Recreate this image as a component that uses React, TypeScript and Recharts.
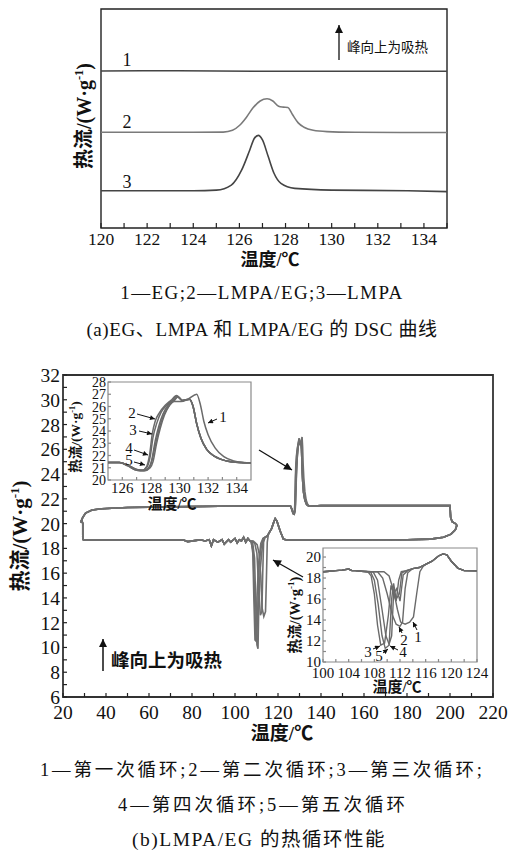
import React from 'react';
import { LineChart, Line, XAxis, YAxis, ReferenceArea } from 'recharts';

const SERIF = '"Liberation Serif","Noto Sans CJK SC",serif';
type P = [number, number];

// ---------------- (a) DSC curves ----------------
const aXTicks = [120, 121, 122, 123, 124, 125, 126, 127, 128, 129, 130, 131, 132, 133, 134, 135];
const aEG: P[] = [[120, 71.7], [123, 71.8], [127, 71.6], [131, 71.6], [135, 71.6]];
const aComposite: P[] = [
  [120, 43.7], [124, 43.7], [125.3, 43.8], [125.7, 44.6], [126.0, 46.8], [126.3, 50.5], [126.6, 55.0],
  [126.9, 58.0], [127.2, 59.0], [127.45, 58.0], [127.7, 55.6], [127.9, 55.2], [128.1, 55.0], [128.3, 51.8],
  [128.55, 48.0], [128.8, 46.0], [129.2, 44.6], [129.8, 44.0], [131, 43.7], [133, 43.6], [135, 43.6],
];
const aLMPA: P[] = [
  [120, 17.0], [124, 17.0], [125.0, 17.3], [125.65, 19.6], [126.1, 26.5], [126.45, 35.6], [126.65, 41.0],
  [126.82, 42.3], [127.0, 40.2], [127.25, 32.6], [127.5, 25.0], [127.8, 20.4], [128.4, 18.1], [130.0, 17.3],
  [133.3, 17.0], [135, 16.6],
];

// ---------------- (b) thermal cycling ----------------
const bXTicks = [20, 30, 40, 50, 60, 70, 80, 90, 100, 110, 120, 130, 140, 150, 160, 170, 180, 190, 200, 210, 220];
const bYTicks = [6, 7, 8, 9, 10, 11, 12, 13, 14, 15, 16, 17, 18, 19, 20, 21, 22, 23, 24, 25, 26, 27, 28, 29, 30, 31, 32];

const loopStart: P[] = [
  [29.2, 18.68], [29.2, 20.0], [28.7, 20.3], [28.2, 20.1], [29.2, 20.5], [30.5, 20.85], [33.5, 21.1], [38, 21.2],
  [50, 21.3], [70, 21.35], [100, 21.42], [124, 21.42],
];
// heating peaks, cycles 1..5 (also used by inset 1)
const heat1: P[] = [
  [125, 21.42], [125.8, 21.42], [126.5, 21.15], [127.2, 20.8], [127.6, 20.8], [128.0, 21.3], [128.3, 22.8],
  [128.6, 24.3], [128.9, 25.3], [129.3, 26.1], [129.6, 26.4], [130.1, 26.4], [130.6, 26.6], [131.2, 27.0],
  [131.45, 26.2], [131.7, 24.8], [132.0, 23.7], [132.5, 22.6], [133.1, 21.9], [133.8, 21.55], [134.5, 21.42], [135, 21.4],
];
const heat2: P[] = [
  [125, 21.42], [125.8, 21.42], [126.4, 21.2], [127.0, 20.85], [127.4, 20.8], [127.7, 21.1], [127.9, 22.0],
  [128.1, 23.8], [128.3, 24.8], [128.6, 25.5], [129.0, 26.1], [129.4, 26.5], [129.8, 26.9], [130.2, 26.5],
  [130.7, 26.6], [130.95, 26.0], [131.2, 24.6], [131.5, 23.4], [131.9, 22.5], [132.5, 21.9], [133.3, 21.55], [134.2, 21.42], [135, 21.4],
];
const heat3: P[] = [
  [125, 21.42], [125.8, 21.42], [126.4, 21.2], [127.0, 20.85], [127.4, 20.8], [127.75, 21.1], [127.95, 21.9],
  [128.15, 23.5], [128.4, 24.6], [128.7, 25.5], [129.1, 26.1], [129.5, 26.5], [129.8, 26.85], [130.2, 26.5],
  [130.7, 26.6], [130.95, 26.0], [131.2, 24.6], [131.5, 23.4], [131.9, 22.5], [132.5, 21.9], [133.3, 21.55], [134.2, 21.42], [135, 21.4],
];
const heat4: P[] = [
  [125, 21.42], [125.8, 21.42], [126.4, 21.15], [127.0, 20.8], [127.5, 20.75], [127.85, 21.0], [128.05, 21.6],
  [128.3, 23.2], [128.55, 24.4], [128.85, 25.4], [129.2, 26.1], [129.6, 26.5], [129.85, 26.8], [130.2, 26.5],
  [130.7, 26.6], [130.95, 26.0], [131.2, 24.6], [131.5, 23.4], [131.9, 22.5], [132.5, 21.9], [133.3, 21.55], [134.2, 21.42], [135, 21.4],
];
const heat5: P[] = [
  [125, 21.42], [125.8, 21.42], [126.4, 21.15], [127.0, 20.8], [127.55, 20.75], [127.95, 21.0], [128.15, 21.5],
  [128.4, 23.0], [128.65, 24.2], [128.95, 25.3], [129.3, 26.1], [129.65, 26.5], [129.9, 26.8], [130.2, 26.5],
  [130.7, 26.6], [130.95, 26.0], [131.2, 24.6], [131.5, 23.4], [131.9, 22.5], [132.5, 21.9], [133.3, 21.55], [134.2, 21.42], [135, 21.4],
];
const loopRight: P[] = [
  [140, 21.45], [170, 21.45], [200, 21.45], [200.3, 20.5], [201, 20.15], [202.5, 20.0], [203.2, 19.85],
  [202.5, 19.5], [200.5, 19.15], [197, 18.9], [191, 18.75], [180, 18.7], [150, 18.68], [124, 18.68],
];
const coolPeak: P[] = [[122.5, 18.75], [121, 19.4], [119.5, 20.2], [118.7, 20.4], [118, 20.1], [117, 19.6], [116, 19.3]];
// crystallisation dips on the main axes, cycles 1..5
const mainDip1: P[] = [[115.5, 19.1], [115.0, 18.5], [114.6, 15.5], [114.2, 12.9], [113.4, 12.5], [112.6, 13.2], [112.0, 15.8], [111.2, 17.6], [110.3, 18.3], [108.5, 18.6]];
const mainDip2: P[] = [[115.2, 19.0], [114.0, 18.9], [113.3, 18.5], [112.9, 16.0], [112.5, 12.9], [111.8, 12.6], [111.0, 14.8], [110.2, 17.6], [109.2, 18.4], [108.0, 18.6]];
const mainDip3: P[] = [[115, 19.0], [113, 18.8], [112.0, 18.4], [111.0, 16.8], [110.2, 14.0], [109.8, 10.5], [109.3, 10.6], [108.8, 13.8], [108.3, 17.6], [107.6, 18.5]];
const mainDip4: P[] = [[115, 19.0], [113.2, 18.8], [112.4, 17.6], [111.7, 16.2], [111.1, 13.8], [110.7, 9.9], [110.2, 10.2], [109.7, 13.2], [109.1, 17.2], [108.2, 18.5]];
const mainDip5: P[] = [[115, 19.0], [113, 18.8], [112.1, 18.0], [111.2, 16.8], [110.6, 13.2], [110.1, 10.6], [109.6, 11.0], [109.0, 14.8], [108.4, 17.8], [107.5, 18.5]];
const coolNoise: P[] = [
  [107, 18.6], [106, 18.8], [105, 18.5], [104, 18.9], [103, 18.6], [102, 18.7], [101, 18.45], [100, 18.8],
  [98, 18.5], [97, 18.7], [95, 18.35], [94, 18.7], [92, 18.5], [90, 18.7], [89, 18.2], [88, 18.7], [86, 18.6],
  [84, 18.7], [82, 18.65], [78, 18.55], [76, 18.68], [50, 18.68], [31, 18.68], [29.2, 18.68],
];

// inset 1
const i1XTicks = [126, 127, 128, 129, 130, 131, 132, 133, 134];
const i1YTicks = [20, 21, 22, 23, 24, 25, 26, 27, 28];
// inset 2
const i2XTicks = [100, 102, 104, 106, 108, 110, 112, 114, 116, 118, 120, 122, 124];
const i2YTicks = [10, 11, 12, 13, 14, 15, 16, 17, 18, 19, 20];
const i2Base: P[] = [[100, 18.6], [101, 18.65], [102, 18.7], [103, 18.75], [104, 18.85], [104.5, 18.7], [105, 18.7], [106, 18.65]];
const i2Tail: P[] = [[116, 19.3], [117, 19.6], [118, 20.1], [118.7, 20.3], [119.3, 20.2], [120, 19.6], [121, 18.95], [122, 18.7], [124, 18.68]];
const cool1: P[] = [[107.5, 18.6], [109.5, 18.6], [110.3, 18.2], [111.0, 16.8], [111.6, 15.0], [112.1, 13.8], [112.8, 13.6], [113.5, 13.8], [114.1, 14.3], [114.6, 16.5], [115.1, 18.6], [115.6, 19.1]];
const cool2: P[] = [[107.5, 18.6], [108.5, 18.6], [109.3, 18.0], [110.0, 16.5], [110.8, 14.5], [111.4, 13.6], [112.0, 13.4], [112.4, 13.8], [112.8, 17.0], [113.2, 18.5], [114, 18.9], [115, 19.0]];
const cool3: P[] = [[107.0, 18.6], [107.5, 18.2], [108.0, 16.5], [108.5, 13.5], [109.0, 11.6], [109.6, 11.8], [110.2, 14.5], [110.6, 17.3], [111.0, 16.5], [111.4, 15.8], [111.8, 17.8], [112.2, 18.6], [113, 18.7], [114, 18.9], [115, 19.0]];
const cool4: P[] = [[107.0, 18.6], [107.8, 18.6], [108.5, 17.8], [109.2, 15.0], [109.8, 12.5], [110.3, 11.7], [110.7, 12.5], [111.0, 16.5], [111.5, 17.0], [112.0, 15.8], [112.5, 18.3], [113.2, 18.7], [114, 18.9], [115, 19.0]];
const cool5: P[] = [[107.0, 18.6], [107.4, 18.6], [108.0, 17.8], [108.6, 15.5], [109.2, 12.5], [109.7, 11.3], [110.3, 11.6], [110.7, 16.0], [111.0, 17.5], [111.4, 16.0], [111.9, 16.5], [112.3, 18.5], [113, 18.7], [114, 18.9], [115, 19.0]];

// ---------------- helpers ----------------
const pts = (a: P[]) => a.map(([x, y]) => ({ x, y }));
const mainCycle = (heat: P[], dip: P[]) => pts([...loopStart, ...heat, ...loopRight, ...coolPeak, ...dip, ...coolNoise]);
const inset2Curve = (c: P[]) => pts([...i2Base, ...c, ...i2Tail]);

const makeXTick = (show: (v: number) => boolean, len: number, fs: number, off: number, stroke: string) => (props: any) => {
  const { x, y, payload } = props;
  const v = payload.value;
  return (
    <g>
      <line x1={x} x2={x} y1={y} y2={y - len} stroke={stroke} strokeWidth={1.2} />
      {show(v) && (
        <text x={x} y={y + off} textAnchor="middle" fontSize={fs} fontFamily={SERIF} fill="#111">{v}</text>
      )}
    </g>
  );
};
const makeYTick = (show: (v: number) => boolean, len: number, fs: number, gap: number, dy: number, stroke: string) => (props: any) => {
  const { x, y, payload } = props;
  const v = payload.value;
  return (
    <g>
      <line x1={x} x2={x + len} y1={y} y2={y} stroke={stroke} strokeWidth={1.2} />
      {show(v) && (
        <text x={x - gap} y={y + dy} textAnchor="end" fontSize={fs} fontFamily={SERIF} fill="#111">{v}</text>
      )}
    </g>
  );
};

const ChartA = () => (
  <LineChart width={513} height={250} margin={{ top: 9, right: 66, left: 101, bottom: 0 }}>
    <XAxis type="number" dataKey="x" domain={[120, 135]} ticks={aXTicks} interval={0} height={22}
      axisLine={false} tickLine={false} tickSize={0} tickMargin={0}
      tick={makeXTick((v) => v % 2 === 0 && v < 135, 5, 17.5, 17, '#222')} allowDataOverflow />
    <YAxis type="number" hide domain={[0, 100]} allowDataOverflow />
    <ReferenceArea x1={120} x2={135} y1={0} y2={100} fill="none" fillOpacity={0} stroke="#222" strokeWidth={1.4} />
    <Line data={pts(aEG)} dataKey="y" type="monotone" stroke="#444" strokeWidth={1.5} dot={false} isAnimationActive={false} />
    <Line data={pts(aComposite)} dataKey="y" type="monotone" stroke="#7a7a7a" strokeWidth={1.6} dot={false} isAnimationActive={false} />
    <Line data={pts(aLMPA)} dataKey="y" type="monotone" stroke="#444" strokeWidth={1.6} dot={false} isAnimationActive={false} />
  </LineChart>
);

const MAIN_COL = '#6f6f6f';
const ChartB = () => (
  <LineChart width={513} height={390} margin={{ top: 35, right: 20, left: 13, bottom: 10 }}>
    <XAxis type="number" dataKey="x" domain={[20, 220]} ticks={bXTicks} interval={0} height={23}
      axisLine={false} tickLine={false} tickSize={0} tickMargin={0}
      tick={makeXTick((v) => v % 20 === 0, 4, 19.5, 22, '#222')} allowDataOverflow />
    <YAxis type="number" domain={[6, 32]} ticks={bYTicks} interval={0} width={50}
      axisLine={false} tickLine={false} tickSize={0} tickMargin={0}
      tick={makeYTick((v) => v % 2 === 0, 4, 19.5, 3, 7, '#222')} allowDataOverflow />
    <ReferenceArea x1={20} x2={220} y1={6} y2={32} fill="none" fillOpacity={0} stroke="#333" strokeWidth={1.8} />
    <Line data={mainCycle(heat5, mainDip5)} dataKey="y" stroke={MAIN_COL} strokeWidth={1.6} dot={false} isAnimationActive={false} />
    <Line data={mainCycle(heat4, mainDip4)} dataKey="y" stroke={MAIN_COL} strokeWidth={1.6} dot={false} isAnimationActive={false} />
    <Line data={mainCycle(heat3, mainDip3)} dataKey="y" stroke={MAIN_COL} strokeWidth={1.6} dot={false} isAnimationActive={false} />
    <Line data={mainCycle(heat2, mainDip2)} dataKey="y" stroke={MAIN_COL} strokeWidth={1.6} dot={false} isAnimationActive={false} />
    <Line data={mainCycle(heat1, mainDip1)} dataKey="y" stroke={MAIN_COL} strokeWidth={1.6} dot={false} isAnimationActive={false} />
  </LineChart>
);

const INSET_COL = '#6a6a6a';
const Inset1 = () => (
  <LineChart width={186} height={135} margin={{ top: 7, right: 5, left: 0, bottom: 0 }}>
    <XAxis type="number" dataKey="x" domain={[125, 135]} ticks={i1XTicks} interval={0} height={30}
      axisLine={false} tickLine={false} tickSize={0} tickMargin={0}
      tick={makeXTick((v) => v % 2 === 0, 3, 15, 13, '#888')} allowDataOverflow />
    <YAxis type="number" domain={[20, 28]} ticks={i1YTicks} interval={0} width={38}
      axisLine={false} tickLine={false} tickSize={0} tickMargin={0}
      tick={makeYTick(() => true, 3, 14, 2, 5, '#888')} allowDataOverflow />
    <ReferenceArea x1={125} x2={135} y1={20} y2={28} fill="none" fillOpacity={0} stroke="#8a8a8a" strokeWidth={1.2} />
    {[heat5, heat4, heat3, heat2, heat1].map((h, i) => (
      <Line key={i} data={pts(h)} dataKey="y" type="monotone" stroke={INSET_COL} strokeWidth={1.5} dot={false} isAnimationActive={false} />
    ))}
  </LineChart>
);

const Inset2 = () => (
  <LineChart width={210} height={160} margin={{ top: 8, right: 18, left: 0, bottom: 0 }}>
    <XAxis type="number" dataKey="x" domain={[100, 124]} ticks={i2XTicks} interval={0} height={38}
      axisLine={false} tickLine={false} tickSize={0} tickMargin={0}
      tick={makeXTick((v) => v % 4 === 0, 3, 15, 16, '#888')} allowDataOverflow />
    <YAxis type="number" domain={[10, 20.86]} ticks={i2YTicks} interval={0} width={38}
      axisLine={false} tickLine={false} tickSize={0} tickMargin={0}
      tick={makeYTick((v) => v % 2 === 0, 3, 15, 2, 5, '#888')} allowDataOverflow />
    <ReferenceArea x1={100} x2={124} y1={10} y2={20.86} fill="none" fillOpacity={0} stroke="#8a8a8a" strokeWidth={1.2} />
    {[cool5, cool4, cool3, cool2, cool1].map((c, i) => (
      <Line key={i} data={inset2Curve(c)} dataKey="y" stroke={INSET_COL} strokeWidth={1.4} dot={false} isAnimationActive={false} />
    ))}
  </LineChart>
);

const YLabel = ({ x, y, fs }: { x: number; y: number; fs: number }) => (
  <text transform={`translate(${x},${y}) rotate(-90)`} textAnchor="middle" fontSize={fs} fontWeight="bold" fontFamily={SERIF} fill="#111">
    热流/(W·g<tspan dy={-fs * 0.4} fontSize={fs * 0.62}>-1</tspan><tspan dy={fs * 0.4}>)</tspan>
  </text>
);

const Arrow = ({ x1, y1, x2, y2, m = 'ah', w = 1 }: { x1: number; y1: number; x2: number; y2: number; m?: string; w?: number }) => (
  <line x1={x1} y1={y1} x2={x2} y2={y2} stroke="#111" strokeWidth={w} markerEnd={`url(#${m})`} />
);

const Num = ({ x, y, t, fs = 15 }: { x: number; y: number; t: string; fs?: number }) => (
  <text x={x} y={y} textAnchor="middle" fontSize={fs} fontFamily={SERIF} fill="#111">{t}</text>
);

const Overlay = () => (
  <svg width={513} height={854} style={{ position: 'absolute', left: 0, top: 0, pointerEvents: 'none' }}>
    <defs>
      <marker id="ah" viewBox="0 0 10 10" refX="10" refY="5" markerWidth="9" markerHeight="8" orient="auto" markerUnits="userSpaceOnUse">
        <path d="M0,0 L10,5 L0,10 z" fill="#111" />
      </marker>
      <marker id="ahs" viewBox="0 0 10 10" refX="10" refY="5" markerWidth="6" markerHeight="5" orient="auto" markerUnits="userSpaceOnUse">
        <path d="M0,0 L10,5 L0,10 z" fill="#111" />
      </marker>
    </defs>
    {/* (a) annotations */}
    <Num x={127} y={66} t="1" fs={18} />
    <Num x={127} y={128} t="2" fs={18} />
    <Num x={127} y={188} t="3" fs={18} />
    <Arrow x1={339} y1={60} x2={339} y2={25} m="ah" w={1.3} />
    <text x={347} y={52} fontSize={13.5} fontFamily={SERIF} fill="#111">峰向上为吸热</text>
    <YLabel x={91} y={116} fs={20} />
    <text x={270} y={266} textAnchor="middle" fontSize={18} fontWeight="bold" fontFamily={SERIF} fill="#111">温度/℃</text>
    <text x={262} y={299} textAnchor="middle" fontSize={19} letterSpacing={1.4} fontFamily={SERIF} fill="#111">1—EG;2—LMPA/EG;3—LMPA</text>
    <text x={262} y={336} textAnchor="middle" fontSize={19} letterSpacing={0.6} fontFamily={SERIF} fill="#111">(a)EG、LMPA 和 LMPA/EG 的 DSC 曲线</text>

    {/* (b) annotations */}
    <YLabel x={27} y={536} fs={21} />
    <text x={282} y={740} textAnchor="middle" fontSize={19} fontWeight="bold" fontFamily={SERIF} fill="#111">温度/℃</text>
    <Arrow x1={103} y1={671} x2={103} y2={639} m="ah" w={1.5} />
    <text x={111} y={667} fontSize={18.5} fontWeight="bold" fontFamily={SERIF} fill="#111">峰向上为吸热</text>
    <Arrow x1={259} y1={450} x2={292} y2={470} m="ah" w={1.3} />
    <Arrow x1={303} y1={577} x2={273} y2={560} m="ah" w={1.3} />

    {/* inset 1 */}
    <YLabel x={80} y={437} fs={13.5} />
    <text x={172} y={509} textAnchor="middle" fontSize={15} fontWeight="bold" fontFamily={SERIF} fill="#111">温度/℃</text>
    <Num x={132} y={418} t="2" />
    <Arrow x1={137} y1={414} x2={155} y2={419} m="ahs" />
    <Num x={133} y={435} t="3" />
    <Arrow x1={139} y1={431} x2={152} y2={434} m="ahs" />
    <Num x={129} y={453} t="4" />
    <Arrow x1={134} y1={450} x2={148} y2={455} m="ahs" />
    <Num x={129} y={465} t="5" />
    <Arrow x1={134} y1={462} x2={145} y2={465} m="ahs" />
    <Num x={223} y={422} t="1" />
    <Arrow x1={217} y1={419} x2={208} y2={423} m="ahs" />

    {/* inset 2 */}
    <YLabel x={300} y={615} fs={14.5} />
    <text x={397} y={692} textAnchor="middle" fontSize={15} fontWeight="bold" fontFamily={SERIF} fill="#111">温度/℃</text>
    <Num x={418} y={642} t="1" />
    <Arrow x1={417} y1={630} x2={413} y2={622} m="ahs" />
    <Num x={404} y={645} t="2" />
    <Arrow x1={402} y1={633} x2={399} y2={627} m="ahs" />
    <Num x={368} y={657} t="3" />
    <Arrow x1={373} y1={649} x2={380} y2={646} m="ahs" />
    <Num x={379} y={661} t="5" />
    <Arrow x1={383} y1={653} x2={388} y2={649} m="ahs" />
    <Num x={403} y={657} t="4" />
    <Arrow x1={398} y1={650} x2={390} y2={646} m="ahs" />

    {/* captions */}
    <text x={40} y={776} fontSize={18.5} fontFamily={SERIF} fill="#111" textLength={442} lengthAdjust="spacing">1—第一次循环;2—第二次循环;3—第三次循环;</text>
    <text x={118} y={811} fontSize={18.5} fontFamily={SERIF} fill="#111" textLength={287} lengthAdjust="spacing">4—第四次循环;5—第五次循环</text>
    <text x={259} y={846} textAnchor="middle" fontSize={19.5} letterSpacing={1.5} fontFamily={SERIF} fill="#111">(b)LMPA/EG 的热循环性能</text>
  </svg>
);

export default function App() {
  return (
    <div style={{ position: 'absolute', left: 0, top: 0, width: 513, height: 854, background: '#fff', overflow: 'hidden' }}>
      <div style={{ position: 'absolute', left: 0, top: 0 }}><ChartA /></div>
      <div style={{ position: 'absolute', left: 0, top: 340 }}><ChartB /></div>
      <div style={{ position: 'absolute', left: 70, top: 375 }}><Inset1 /></div>
      <div style={{ position: 'absolute', left: 285, top: 540 }}><Inset2 /></div>
      <Overlay />
    </div>
  );
}
